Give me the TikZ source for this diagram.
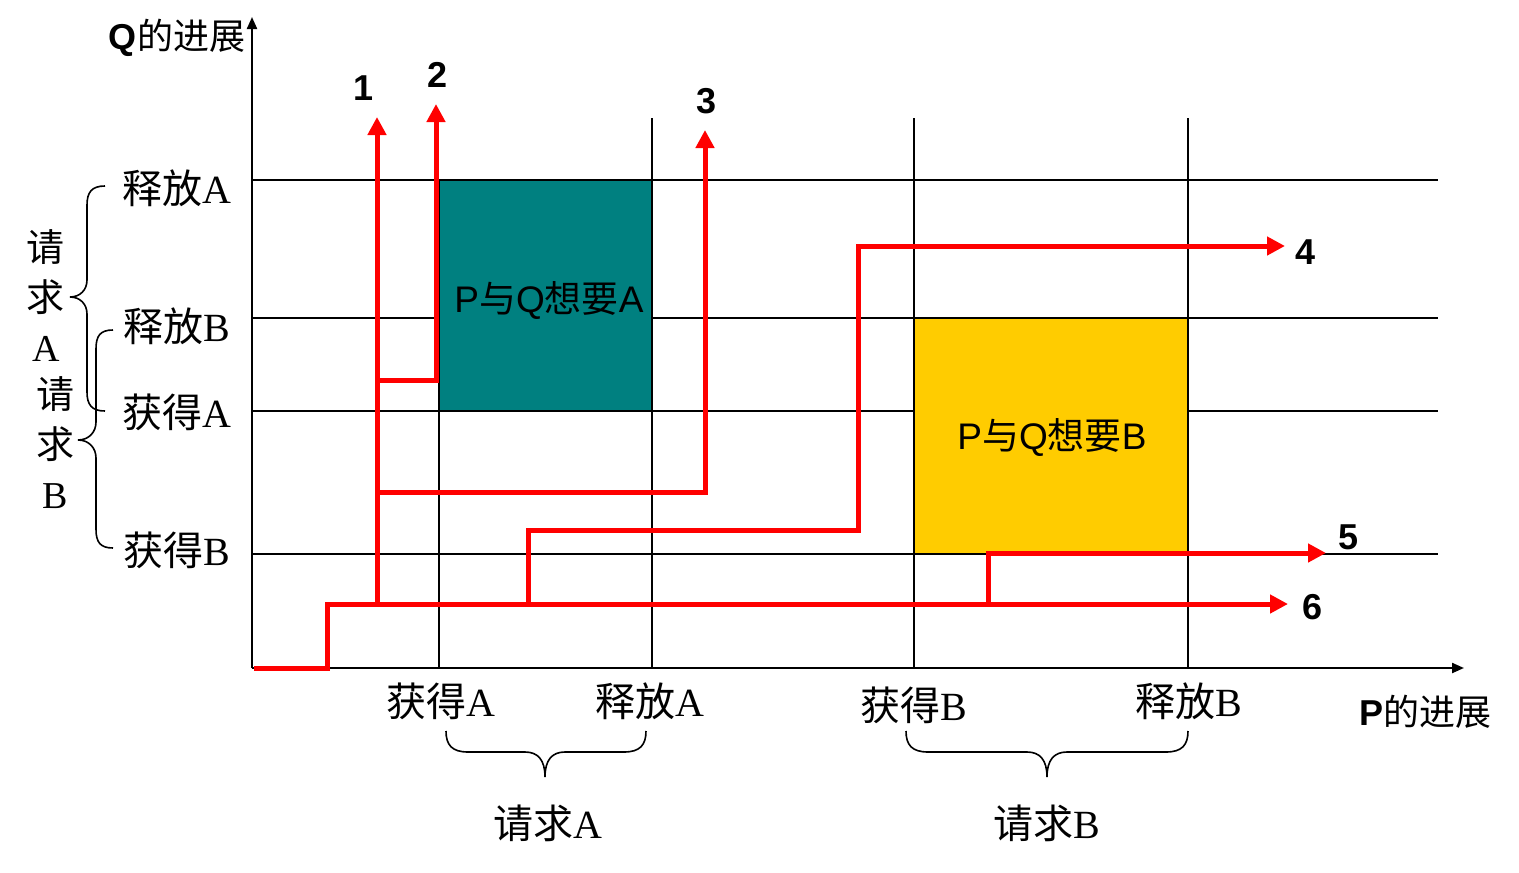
\documentclass[tikz,border=0pt]{standalone}
\usepackage{fontspec}
\setmainfont{Liberation Serif}
\newfontfamily\cjk{Noto Sans CJK SC}
\newfontfamily\arialf{Liberation Sans}
\usetikzlibrary{arrows.meta}
\begin{document}
\begin{tikzpicture}[x=1pt,y=-1pt,
  gridline/.style={line width=2.2pt,black},
  axis/.style={line width=2.2pt,black,-{Triangle[length=12pt,width=10pt]}},
  redpath/.style={line width=5pt,red,line join=miter},
  redarrow/.style={redpath,-{Triangle[length=18pt,width=18pt]}},
  lbl/.style={font=\fontsize{40}{44}\selectfont,inner sep=0pt},
  col/.style={font=\fontsize{38}{50}\selectfont,inner sep=0pt,align=center},
  num/.style={font=\arialf\bfseries\fontsize{36}{40}\selectfont,inner sep=0pt},
  axlbl/.style={font=\fontsize{36}{40}\selectfont,inner sep=0pt},
  zone/.style={inner sep=0pt,font=\fontsize{37}{40}\selectfont},
  bracepath/.style={line width=1.6pt,black}
]
\useasboundingbox (0,0) rectangle (1519,873);

% grid
\foreach \yy in {180,318,411,554} \draw[gridline] (252,\yy) -- (1438,\yy);
\draw[gridline] (439,180) -- (439,668);
\foreach \xx in {652,914,1188} \draw[gridline] (\xx,118) -- (\xx,668);

% shaded zones
\node[zone,draw=black,line width=2.2pt,fill={rgb,255:red,0;green,128;blue,128},minimum width=213pt,minimum height=231pt] (zoneA) at (545.5,295.5) {};
\node[zone] (zoneAtxt) at (549,300) {{\arialf P}{\cjk 与}{\arialf Q}{\cjk 想要}{\arialf A}};
\node[zone,draw=black,line width=2.2pt,fill={rgb,255:red,255;green,204;blue,0},minimum width=274pt,minimum height=236pt] (zoneB) at (1051,436) {};
\node[zone] (zoneBtxt) at (1052,437) {{\arialf P}{\cjk 与}{\arialf Q}{\cjk 想要}{\arialf B}};

% axes
\coordinate (O) at (252,668);
\coordinate (Ytop) at (252,17);
\coordinate (Xend) at (1464,668);
\draw[axis] (O) -- (Ytop);
\draw[axis] (O) -- (Xend);

% red trajectories
\coordinate (s0) at (254,668);
\coordinate (e6) at (1288,604);
\coordinate (b1) at (377,604);
\coordinate (e1) at (377,117);
\coordinate (b2) at (377,380);
\coordinate (e2) at (436,104);
\coordinate (b3) at (377,492);
\coordinate (e3) at (705,130);
\coordinate (b4) at (528,604);
\coordinate (e4) at (1285,246);
\coordinate (b5) at (988,604);
\coordinate (e5) at (1326,553);
\draw[redarrow] (s0) -- (327,668) -- (327,604) -- (e6);
\draw[redarrow] (b1) -- (e1);
\draw[redarrow] (b2) -- (436,380) -- (e2);
\draw[redarrow] (b3) -- (705,492) -- (e3);
\draw[redarrow] (b4) -- (528,530) -- (858,530) -- (858,246) -- (e4);
\draw[redarrow] (b5) -- (988,553) -- (e5);

% numbers
\node[num] (n1) at (364,88) {1};
\node[num] (n2) at (438,75) {2};
\node[num] (n3) at (707,101) {3};
\node[num] (n4) at (1305,252) {4};
\node[num] (n5) at (1348,537) {5};
\node[num] (n6) at (1312,607) {6};

% axis labels
\node[axlbl] (qlab) at (177,38) {{\arialf\bfseries Q}{\cjk 的进展}};
\node[axlbl] (plab) at (1425,712) {{\arialf\bfseries P}{\cjk 的进展}};

% left labels
\node[lbl] (lRA) at (177,188) {{\cjk 释放}A};
\node[lbl] (lRB) at (177,326) {{\cjk 释放}B};
\node[lbl] (lGA) at (177,412) {{\cjk 获得}A};
\node[lbl] (lGB) at (177,550) {{\cjk 获得}B};
\node[col] (colA) at (46,296) {{\cjk 请}\\{\cjk 求}\\A};
\node[col] (colB) at (55,443) {{\cjk 请}\\{\cjk 求}\\B};

% bottom labels
\node[lbl] (bGA) at (441,701) {{\cjk 获得}A};
\node[lbl] (bRA) at (650,701) {{\cjk 释放}A};
\node[lbl] (bGB) at (914,705) {{\cjk 获得}B};
\node[lbl] (bRB) at (1189,701) {{\cjk 释放}B};
\node[lbl] (qA) at (548,823) {{\cjk 请求}A};
\node[lbl] (qB) at (1047,823) {{\cjk 请求}B};

% braces
\draw[bracepath] (105,186) .. controls (92,186) and (87,192) .. (87,205) -- (87,280)
  .. controls (87,290) and (80,297) .. (70,297) .. controls (80,297) and (87,304) .. (87,314)
  -- (87,392) .. controls (87,405) and (92,411) .. (105,411);
\draw[bracepath] (113,330) .. controls (100,330) and (96,336) .. (96,349) -- (96,422)
  .. controls (96,432) and (89,440) .. (78,440) .. controls (89,440) and (96,448) .. (96,458)
  -- (96,529) .. controls (96,542) and (100,548) .. (113,548);
\draw[bracepath] (446,731) .. controls (446,745) and (452,752) .. (468,752) -- (525,752)
  .. controls (538,752) and (545,760) .. (545,777) .. controls (545,760) and (552,752) .. (565,752)
  -- (624,752) .. controls (640,752) and (646,745) .. (646,731);
\draw[bracepath] (906,731) .. controls (906,745) and (912,752) .. (928,752) -- (1027,752)
  .. controls (1040,752) and (1047,760) .. (1047,777) .. controls (1047,760) and (1054,752) .. (1067,752)
  -- (1166,752) .. controls (1182,752) and (1188,745) .. (1188,731);
\end{tikzpicture}
\end{document}
